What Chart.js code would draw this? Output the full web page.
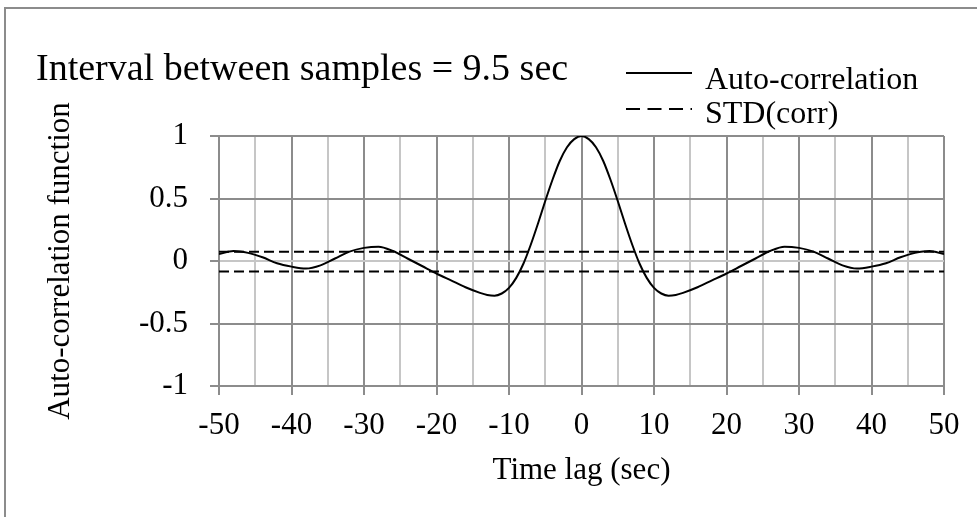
<!DOCTYPE html>
<html>
<head>
<meta charset="utf-8">
<script src="https://cdn.jsdelivr.net/npm/chart.js@4/dist/chart.umd.min.js"></script>
<style>
    body { margin: 0; background: #fff; }
    #wrap { width: 977px; height: 517px; }
</style>
</head>
<body>
<div id="wrap"><canvas id="acfChart" width="977" height="517"></canvas></div>
<script>
// Data
const lags = [-50, -48, -46, -44, -42, -40, -38, -36, -34, -32, -30, -28, -26, -24, -22, -20, -18, -16,
    -14, -13, -12, -11, -10, -9, -8, -7, -6, -5, -4, -3, -2, -1, 0,
    1, 2, 3, 4, 5, 6, 7, 8, 9, 10, 11, 12, 13, 14,
    16, 18, 20, 22, 24, 26, 28, 30, 32, 34, 36, 38, 40, 42, 44, 46, 48, 50];
const autoCorr = [0.055, 0.08, 0.065, 0.03, -0.018, -0.045, -0.06, -0.035, 0.02, 0.075, 0.105, 0.115, 0.08, 0.02, -0.04, -0.10, -0.155, -0.21,
    -0.255, -0.272, -0.278, -0.26, -0.215, -0.135, -0.02, 0.13, 0.30, 0.48, 0.65, 0.80, 0.91, 0.975, 1.0,
    0.975, 0.91, 0.80, 0.65, 0.48, 0.30, 0.13, -0.02, -0.135, -0.215, -0.26, -0.278, -0.272, -0.255,
    -0.21, -0.155, -0.10, -0.04, 0.02, 0.08, 0.115, 0.105, 0.075, 0.02, -0.035, -0.06, -0.045, -0.018, 0.03, 0.065, 0.08, 0.055];
const stdLags = [-50, 50];
const stdUpper = [0.075, 0.075];
const stdLower = [-0.083, -0.083];
const yTicks = [-1, -0.5, 0, 0.5, 1];

const titleText = "Interval between samples = 9.5 sec";
const serif = '"Liberation Serif", "Times New Roman", serif';
const darkGrid = "#8c8c8c";
const lightGrid = "#c6c6c6";

function toPoints(xs, ys) {
    return xs.map((x, i) => ({ x: x, y: ys[i] }));
}

// title, legend and frame drawn on top
const overlay = {
    id: "overlay",
    afterDraw(chart) {
        const ctx = chart.ctx;
        ctx.save();
        ctx.strokeStyle = darkGrid;
        ctx.lineWidth = 2;
        ctx.strokeRect(5, 8, 1200, 1200);

        ctx.fillStyle = "#000";
        ctx.textBaseline = "alphabetic";
        ctx.font = "38px " + serif;
        ctx.fillText(titleText, 36, 80);

        ctx.font = "32px " + serif;
        const rows = chart.data.datasets.filter(d => d.label);
        const baselines = [89, 123];
        const lineYs = [73, 109];
        rows.forEach((d, i) => {
            ctx.strokeStyle = "#000";
            ctx.lineWidth = 2;
            ctx.setLineDash(d.borderDash ? [14, 7.5] : []);
            ctx.beginPath();
            ctx.moveTo(626, lineYs[i]);
            ctx.lineTo(692, lineYs[i]);
            ctx.stroke();
            ctx.setLineDash([]);
            ctx.fillText(d.label, 705, baselines[i]);
        });
        ctx.restore();
    }
};

new Chart(document.getElementById("acfChart"), {
    type: "line",
    data: {
        datasets: [
            {
                label: "Auto-correlation",
                data: toPoints(lags, autoCorr),
                borderColor: "#000",
                borderWidth: 2,
                pointRadius: 0,
                cubicInterpolationMode: "monotone",
            },
            {
                label: "STD(corr)",
                data: toPoints(stdLags, stdUpper),
                borderColor: "#000",
                borderWidth: 2,
                borderDash: [10, 5],
                pointRadius: 0,
            },
            {
                label: "",
                data: toPoints(stdLags, stdLower),
                borderColor: "#000",
                borderWidth: 2,
                borderDash: [10, 5],
                pointRadius: 0,
            },
        ],
    },
    options: {
        responsive: false,
        animation: false,
        layout: { padding: { top: 136, right: 33, left: 0, bottom: 0 } },
        plugins: {
            legend: { display: false },
            title: { display: false },
            tooltip: { enabled: false },
        },
        scales: {
            x: {
                type: "linear",
                min: -50,
                max: 50,
                afterFit: (scale) => { scale.height = 131; },
                ticks: {
                    stepSize: 5,
                    autoSkip: false,
                    maxRotation: 0,
                    minRotation: 0,
                    padding: 12,
                    color: "#000",
                    font: { family: serif, size: 31 },
                    callback: (v) => (v % 10 === 0 ? String(v) : ""),
                },
                grid: {
                    color: (c) => (c.tick && c.tick.value % 10 === 0 ? darkGrid : lightGrid),
                    tickColor: (c) => (c.tick && c.tick.value % 10 === 0 ? darkGrid : "rgba(0,0,0,0)"),
                    lineWidth: 2,
                    tickLength: 9,
                },
                border: { color: darkGrid, width: 2 },
                title: {
                    display: true,
                    text: "Time lag (sec)",
                    color: "#000",
                    font: { family: serif, size: 31 },
                    padding: { top: 0, bottom: 28 },
                },
            },
            y: {
                min: -1,
                max: 1,
                afterFit: (scale) => { scale.width = 219; },
                afterBuildTicks: (scale) => { scale.ticks = yTicks.map(v => ({ value: v })); },
                ticks: {
                    padding: 22,
                    color: "#000",
                    font: { family: serif, size: 31 },
                    callback: (v) => String(v),
                },
                grid: {
                    color: (c) => (c.tick && c.tick.value === 0 ? lightGrid : darkGrid),
                    tickColor: darkGrid,
                    lineWidth: 2,
                    tickLength: 9,
                },
                border: { color: darkGrid, width: 2 },
                title: {
                    display: true,
                    text: "Auto-correlation function",
                    color: "#000",
                    font: { family: serif, size: 31 },
                    padding: { top: 42, bottom: 0 },
                },
            },
        },
    },
    plugins: [overlay],
});
</script>
</body>
</html>
